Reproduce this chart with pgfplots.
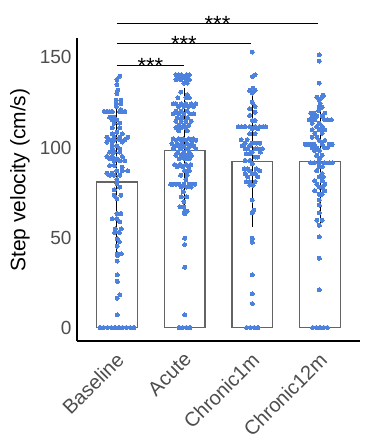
\documentclass[border=0pt]{standalone}
\usepackage{pgfplots}
\pgfplotsset{compat=1.18}
\usepackage{fontspec}
\setmainfont{Liberation Sans}
\definecolor{dotblue}{RGB}{76,129,222}
\definecolor{bargray}{RGB}{100,100,100}
\definecolor{ticktext}{RGB}{77,77,77}
\begin{document}
\begin{tikzpicture}
\path[use as bounding box] (-77pt,-99pt) rectangle (304pt,341pt);
\begin{axis}[
  at={(0,0)}, anchor=south west,
  scale only axis, width=283pt, height=303pt,
  xmin=-0.59, xmax=3.59, ymin=-7.5, ymax=160.8,
  axis x line*=bottom, axis y line*=left,
  axis line style={black, line width=1.2pt},
  major tick length=0pt,
  xtick={0,1,2,3},
  xticklabels={Baseline,Acute,Chronic1m,Chronic12m},
  ytick={0,50,100,150},
  /pgf/number format/assume math mode=true,
  yticklabel style={xshift=-2pt, font=\fontsize{19}{22}\selectfont, text=ticktext},
  xticklabel style={xshift=-2pt, yshift=-10pt, rotate=45, anchor=north east, inner sep=0pt, font=\fontsize{20}{23}\selectfont, text=ticktext},
  ylabel={Step velocity (cm/s)},
  ylabel style={at={(axis description cs:-0.2014,0.531)}, anchor=center, font=\fontsize{21}{24}\selectfont, text=black},
  clip=false,
  swarmdots/.style={only marks, mark=*, mark size=2pt, color=dotblue, mark options={fill=dotblue, draw=dotblue, line width=0pt}},
]
% bars
\addplot[ybar, bar width=0.6, bar shift=0pt, draw=bargray, fill=white, line width=1.1pt]
  coordinates {(0,80.8) (1,98.4) (2,92.2) (3,92.0)};
% points
\addplot[swarmdots] table[x expr=0+\thisrow{dx}/203, y=y] {
dx y
8 139.6
0 137.6
0 135
2 131.8
0 130
-2 126.3
12 126.3
-2 124.4
12 124.4
-2 122.8
12 121
-38 120
-30 120
-22 120
-14 120
8 120
16 120
24 120
-22 116.8
-8 116.8
-14 115.4
0 115.4
-8 113.5
8 113.5
-14 111
8 111
0 108.5
-14 107.6
16 107.6
-30 105.7
-8 105.7
8 105.7
32 105.7
-22 104.3
-8 104.3
8 104.3
24 104.3
-30 103
-14 103
16 103
-14 101
0 101
-14 99.3
8 99.3
-22 97.4
-8 97.4
8 97.4
-30 95
-14 95
16 95
-22 93.8
0 93.8
-8 92.5
8 92.5
24 92.5
-22 90
-8 90
16 89
0 87
16 87
32 87
-30 85.8
-14 85.8
-22 84.6
-8 84.6
8 84.6
0 82.2
0 80
8 78
-8 76.6
-8 73.5
12 73.5
0 71.6
0 63.3
12 63.3
-14 60.5
0 60.5
8 58.7
-5 54.8
13 54.8
-7 52.8
7 52.8
1 49.3
7 47.8
1 45.2
13 41
1 41
1 40
1 36.9
1 29.3
1 25.6
9 18.2
1 16.3
1 7
-51 0
-40 0
-28 0
-17 0
-6 0
6 0
17 0
28 0
40 0
51 0
};
\addplot[swarmdots] table[x expr=1+\thisrow{dx}/203, y=y] {
dx y
-26 140.4
-18 140.4
-10 140.4
6 140.4
14 140.4
-22 139
-4 139
10 139
-26 137.6
-12 137.6
4 137.6
14 137.6
-2 135.8
8 135.8
-12 130.8
8 129.4
-20 127.6
4 127.6
14 127.6
-34 124.3
-26 124.3
-10 124.3
4 124.3
20 124.3
34 124.3
-18 122.8
-2 122.8
12 122.8
26 122.8
-26 120.2
-10 120.2
8 120.2
-34 118.7
-18 118.7
-2 118.7
16 118.7
28 118.7
-22 116.5
-8 116.5
8 116.5
-26 114.6
-10 114.6
4 114.6
20 114.6
-18 112.3
-2 112.3
12 112.3
-26 111
-10 111
4 111
-18 109.2
8 109.2
-34 104.9
-18 104.9
-4 104.9
12 104.9
26 104.9
-26 104
-10 104
4 104
20 104
34 104
-38 102.2
-22 102.2
-8 102.2
8 102.2
22 102.2
-30 100.6
-16 100.6
-2 100.6
14 100.6
28 100.6
-34 99.3
-12 99.3
8 99.3
34 99.3
-20 97.4
-2 97.4
14 97.4
-26 95.6
-10 95.6
6 95.6
20 95.6
-16 93.8
0 93.8
14 93.8
-30 90.5
-14 90.5
4 90.5
18 90.5
-22 89.2
-6 89.2
12 89.2
0 87
14 87
-12 84.6
8 84.6
4 82.2
-42 79.6
-34 79.6
-26 79.6
-18 79.6
-2 79.6
14 79.6
22 79.6
30 79.6
-10 78
6 78
20 78
-4 75.3
-10 72.5
6 72.5
-2 69.8
-14 67.1
-2 67.1
0 64.6
8 64.6
0 63.1
0 49.6
0 46.1
0 33.5
0 7
-17 0
-6 0
5 0
16 0
};
\addplot[swarmdots] table[x expr=2+\thisrow{dx}/203, y=y] {
dx y
0 153
8 140.3
0 139.4
2 133
-8 131.7
8 131.7
0 130.2
0 125.1
8 122.8
-8 121.5
8 119.6
-8 117.8
0 115
8 115
-42 111.6
-32 111.6
-22 111.6
-8 111.6
8 111.6
22 111.6
32 111.6
40 111.6
0 110.4
16 110.4
-8 107.6
8 107.6
-34 104.3
-16 104.3
-22 102.4
0 102.4
12 102.4
22 102.4
-30 101
-8 101
-22 99.3
-14 99.3
8 99.3
16 99.3
30 99.3
0 97.4
24 97.4
-18 96.5
-8 96.5
8 94.7
16 94.7
-22 92.8
-8 92.8
0 91
-24 88.2
-14 88.2
12 88.2
-8 87
22 87
-22 85.5
0 85.5
8 85.5
-14 83.6
16 83.6
-18 81
-8 81
8 81
-8 79.1
2 79.1
0 70.8
4 65.2
0 63.7
0 49.6
0 47.4
0 29.3
0 18.7
0 13.3
-17 0
-6 0
6 0
17 0
};
\addplot[swarmdots] table[x expr=3+\thisrow{dx}/203, y=y] {
dx y
-2 151.5
-2 148
-2 135.8
10 129
-10 128
6 128
-2 126.5
0 124.3
-2 122.4
6 122.4
-4 120.6
-28 119.1
-18 119.1
14 119.1
-24 117.3
-10 117.3
6 117.3
-32 115.4
-16 115.4
14 115.4
22 115.4
34 115.4
-24 113.5
-2 113.5
-10 111.6
6 111.6
-24 109.8
-2 109.8
14 109.8
-16 107.9
6 107.9
-24 105.7
-10 105.7
-2 103.9
14 103.9
-44 101.7
-36 101.7
-28 101.7
-18 101.7
6 101.7
28 101.7
36 101.7
-24 99.9
-10 99.9
14 99.9
22 99.9
-16 98.4
-2 98.4
-10 95.6
6 95.6
-2 93.8
-28 91.4
-18 91.4
-2 91.4
14 91.4
28 91.4
36 91.4
-2 89.2
6 89.2
-10 87
6 85.5
-2 83.6
10 83.6
-16 81.4
6 81.4
-10 79.6
14 79.6
-2 78
6 78
-16 75.9
14 75.9
-2 74
6 74
-2 70.8
-2 68
-2 63.7
-10 59.6
6 59.6
-2 56.8
-2 50.4
-2 38.5
-2 21
-22 0
-11 0
0 0
11 0
22 0
};
% error bars
\addplot[draw=none, mark=none, forget plot,
  error bars/.cd, y dir=both, y explicit,
  error bar style={black, line width=1pt},
  error mark options={black, mark size=6pt, line width=1pt}]
  coordinates {(0,80.8) +- (0,37.8) (1,98.25) +- (0,31.5) (2,92.3) +- (0,33.1) (3,92.15) +- (0,33)};
% significance
\addplot[black, line width=0.9pt, mark=none] coordinates {(0,145.6) (0.99,145.6)};
\addplot[black, line width=0.9pt, mark=none] coordinates {(0,157.8) (1.98,157.8)};
\addplot[black, line width=0.9pt, mark=none] coordinates {(0,168.9) (2.97,168.9)};
\node[anchor=base, inner sep=0pt, font=\fontsize{22}{24}\selectfont] at (axis cs:0.495,141.35) {***};
\node[anchor=base, inner sep=0pt, font=\fontsize{22}{24}\selectfont] at (axis cs:0.99,153.55) {***};
\node[anchor=base, inner sep=0pt, font=\fontsize{22}{24}\selectfont] at (axis cs:1.485,164.65) {***};
\end{axis}
\end{tikzpicture}
\end{document}
